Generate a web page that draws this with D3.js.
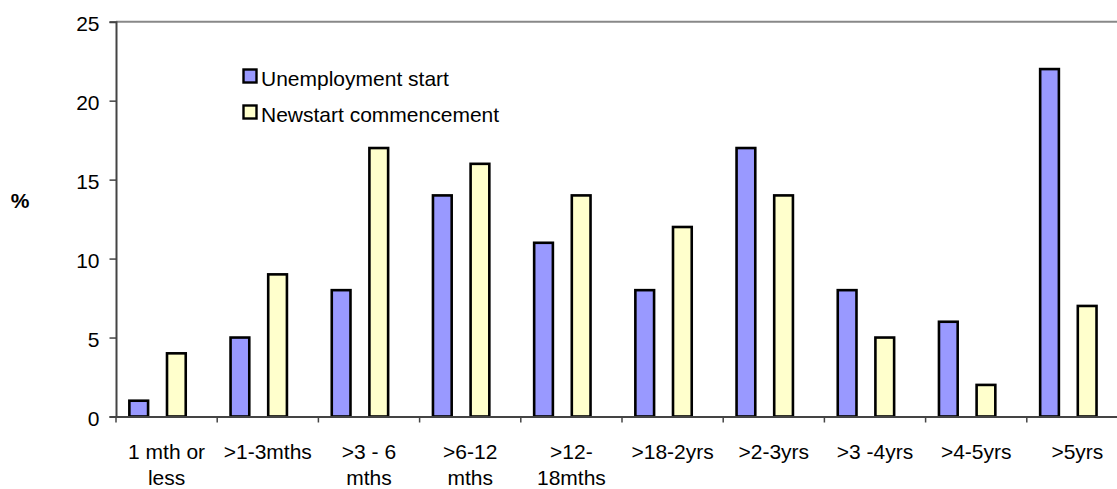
<!DOCTYPE html>
<html><head><meta charset="utf-8">
<script src="https://cdn.jsdelivr.net/npm/d3@7"></script>
<style>body{margin:0;background:#fff;}svg{display:block;font-family:"Liberation Sans",Arial,sans-serif;}</style>
</head><body><svg id="c" width="1117" height="489"></svg>
<script>
const categories = [["1 mth or","less"],[">1-3mths"],[">3 - 6","mths"],[">6-12","mths"],[">12-","18mths"],[">18-2yrs"],[">2-3yrs"],[">3 -4yrs"],[">4-5yrs"],[">5yrs"]];
const unemploymentStart = [1,5,8,14,11,8,17,8,6,22];
const newstartCommencement = [4,9,17,16,14,12,14,5,2,7];
const yTicks = [0,5,10,15,20,25];
const seriesNames = ["Unemployment start","Newstart commencement"];
const seriesColors = ["#9999FF","#FFFFCC"];

const FS = 21;
const svg = d3.select("#c");
const plotLeft = 116, plotTop = 21.7, plotBottom = 416.5, bandW = 101.2;
const x = d3.scaleBand().domain(d3.range(categories.length)).range([plotLeft, plotLeft + bandW*categories.length]).padding(0);
const y = d3.scaleLinear().domain([0,25]).range([plotBottom, plotTop]);

// plot border top
svg.append("line").attr("x1",plotLeft).attr("x2",1117).attr("y1",y(25)).attr("y2",y(25)).attr("stroke","#888").attr("stroke-width",2);

const bw = x.bandwidth();
const offsets = [0.132, 0.504];
const barW = 0.185*bw;
[unemploymentStart, newstartCommencement].forEach((vals,s)=>{
  svg.append("g").selectAll("rect").data(vals).join("rect")
    .attr("x",(d,i)=>x(i)+offsets[s]*bw)
    .attr("y",d=>y(d))
    .attr("width",barW)
    .attr("height",d=>y(0)-y(d))
    .attr("fill",seriesColors[s]).attr("stroke","#000").attr("stroke-width",2.6);
});

// y axis
const ya = svg.append("g").attr("transform",`translate(${plotLeft},0)`)
  .call(d3.axisLeft(y).tickValues(yTicks).tickSize(6.5).tickPadding(10));
ya.select(".domain").attr("stroke","#444").attr("stroke-width",2);
ya.selectAll(".tick line").attr("stroke","#444").attr("stroke-width",1.5);
ya.selectAll("text").attr("font-size",FS).attr("fill","#000").attr("font-family","Liberation Sans, Arial, sans-serif").attr("dy","0.42em");

// x axis
const xa = svg.append("g").attr("transform",`translate(0,${plotBottom})`)
  .call(d3.axisBottom(x).tickSize(0).tickFormat(""));
xa.select(".domain").attr("stroke","#444").attr("stroke-width",2);
const tickPos = d3.range(categories.length+1).map(i=>plotLeft+i*bw);
svg.append("g").selectAll("line").data(tickPos).join("line")
  .attr("x1",d=>d).attr("x2",d=>d).attr("y1",plotBottom).attr("y2",plotBottom+6)
  .attr("stroke","#444").attr("stroke-width",1.5);

// x labels
const lab = svg.append("g").selectAll("text").data(categories).join("text")
  .attr("text-anchor","middle").attr("font-size",FS).attr("fill","#000");
lab.each(function(d,i){
  const t = d3.select(this);
  d.forEach((line,j)=>{
    t.append("tspan").attr("x",x(i)+bw/2).attr("y",459+j*26).text(line);
  });
});

// y title
svg.append("text").attr("x",20).attr("y",208).attr("text-anchor","middle").attr("font-size",FS).attr("font-weight","bold").text("%");

// legend
const lg = svg.append("g");
seriesNames.forEach((n,i)=>{
  lg.append("rect").attr("x",243.5).attr("y",69.5+i*36).attr("width",13).attr("height",13)
    .attr("fill",seriesColors[i]).attr("stroke","#000").attr("stroke-width",2.4);
  lg.append("text").attr("x",261).attr("y",86+i*36).attr("font-size",FS).attr("fill","#000").text(n);
});
</script></body></html>
